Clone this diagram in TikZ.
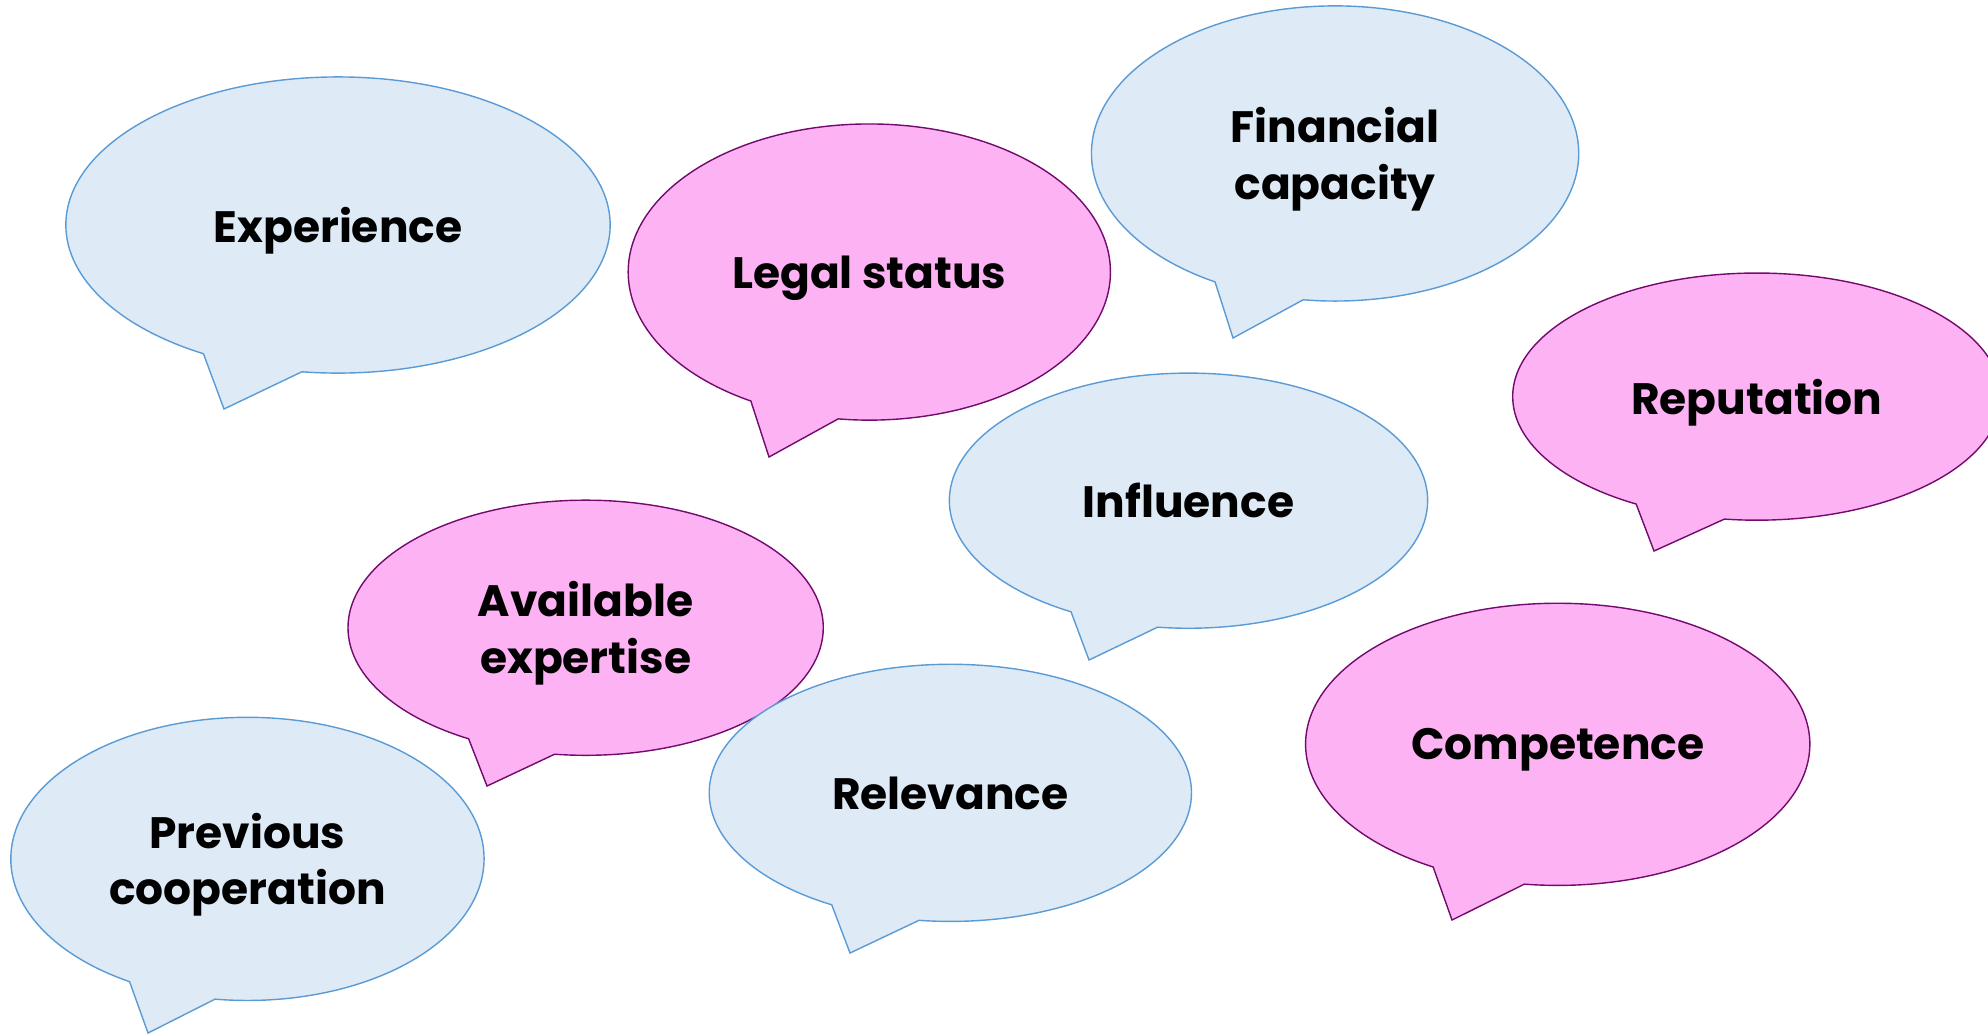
\documentclass[tikz,border=0pt]{standalone}
\usepackage{fontspec}
\setmainfont{Poppins}
\usetikzlibrary{shapes.callouts}
\usetikzlibrary{positioning}

\definecolor{bubbleblue}{RGB}{222,234,246}
\definecolor{bubblebluelin}{RGB}{91,155,213}
\definecolor{bubblepink}{RGB}{253,178,243}
\definecolor{bubblepinklin}{RGB}{115,10,110}

\tikzset{
  bubble/.style={ellipse callout, inner sep=0pt, callout pointer arc=22,
    line width=0.4pt, align=center, text depth=0pt,
    font=\fontsize{12.5}{16.2}\selectfont\bfseries},
  blue bubble/.style={bubble, fill=bubbleblue, draw=bubblebluelin},
  pink bubble/.style={bubble, fill=bubblepink, draw=bubblepinklin}
}

\begin{document}
\begin{tikzpicture}[x=0.01cm, y=0.01cm, on grid]
    \useasboundingbox (0,0) rectangle (1988,-1035);

    \node (exp) [blue bubble, minimum width=5.44cm, minimum height=2.96cm,
      callout absolute pointer={(224,-409)}] at (338,-225) {Experience};
    \node (legal) [pink bubble, minimum width=4.82cm, minimum height=2.96cm,
      callout absolute pointer={(769,-457)}, below right=0.47cm and 5.31cm of exp] {Legal status};
    \node (fin) [blue bubble, minimum width=4.87cm, minimum height=2.95cm,
      callout absolute pointer={(1233,-338)}, above right=1.185cm and 4.655cm of legal] {Financial\\capacity};
    \node (rep) [pink bubble, minimum width=4.88cm, minimum height=2.47cm,
      callout absolute pointer={(1654,-551)}, below right=2.43cm and 4.215cm of fin] {Reputation};
    \node (infl) [blue bubble, minimum width=4.78cm, minimum height=2.55cm,
      callout absolute pointer={(1089,-660)}, below right=2.285cm and 3.19cm of legal] {Influence};

    \node (avail) [pink bubble, minimum width=4.75cm, minimum height=2.55cm,
      callout absolute pointer={(487,-786)}, below right=4.025cm and 2.475cm of exp] {Available\\expertise};
    \node (relev) [blue bubble, minimum width=4.82cm, minimum height=2.57cm,
      callout absolute pointer={(850,-953)}, below right=1.65cm and 3.645cm of avail] {Relevance};
    \node (prev) [blue bubble, minimum width=4.73cm, minimum height=2.83cm,
      callout absolute pointer={(148,-1033)}, below left=2.31cm and 3.38cm of avail] {Previous\\cooperation};
    \node (comp) [pink bubble, minimum width=5.04cm, minimum height=2.82cm,
      callout absolute pointer={(1452,-920)}, below right=2.435cm and 3.69cm of infl] {Competence};
\end{tikzpicture}
\end{document}
